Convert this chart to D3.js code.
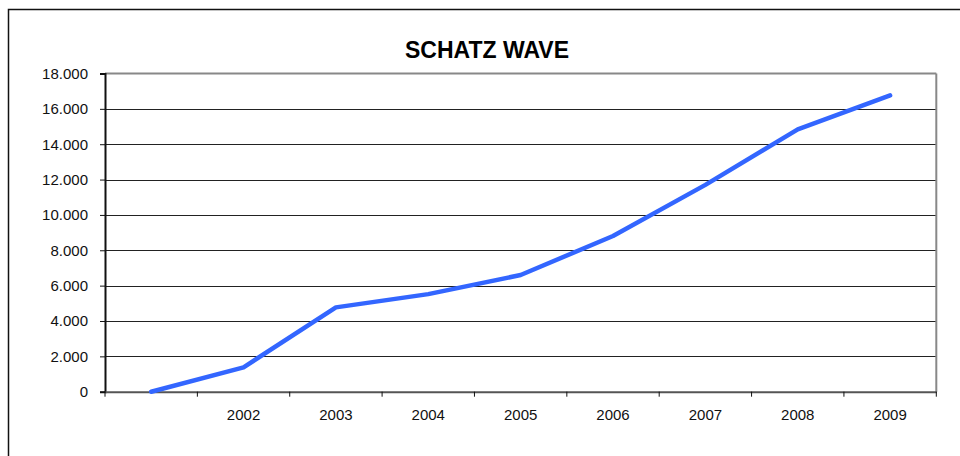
<!DOCTYPE html>
<html><head><meta charset="utf-8">
<script src="https://cdn.jsdelivr.net/npm/d3@7"></script>
<style>body{margin:0;background:#fff}svg{display:block}</style>
</head><body>
<svg id="c" width="960" height="456"></svg>
<script>
const categories = ["", "2002", "2003", "2004", "2005", "2006", "2007", "2008", "2009"];
const values = [0, 1380, 4770, 5520, 6600, 8810, 11700, 14840, 16760];
const yTicks = [0, 2000, 4000, 6000, 8000, 10000, 12000, 14000, 16000, 18000];
const title = "SCHATZ WAVE";

const svg = d3.select("#c");
const W = 960, H = 456;
const m = {left: 105, top: 73.5, right: 936.3, bottom: 391.7};
const font = "'Liberation Sans', Arial, Helvetica, sans-serif";

svg.append("rect").attr("width", W).attr("height", H).attr("fill", "#fff");
svg.append("rect").attr("x", 8.5).attr("y", 9.5).attr("width", W + 10).attr("height", H + 10)
  .attr("fill", "none").attr("stroke", "#111").attr("stroke-width", 1.5);

const x = d3.scaleBand().domain(categories.map((d, i) => i)).range([m.left, m.right]);
const y = d3.scaleLinear().domain([0, 18000]).range([m.bottom, m.top]);

svg.append("text").attr("x", 487).attr("y", 58).attr("text-anchor", "middle")
  .attr("font-family", font).attr("font-weight", "bold").attr("font-size", 23).attr("fill", "#000")
  .text(title);

// gridlines
svg.append("g").selectAll("line").data(yTicks.filter(d => d > 0 && d < 18000)).join("line")
  .attr("x1", m.left).attr("x2", m.right).attr("y1", d => Math.round(y(d)) + 0.5).attr("y2", d => Math.round(y(d)) + 0.5)
  .attr("stroke", "#222").attr("stroke-width", 1);

// plot border top/right
svg.append("line").attr("x1", m.left).attr("x2", m.right).attr("y1", y(18000)).attr("y2", y(18000))
  .attr("stroke", "#888").attr("stroke-width", 2);
svg.append("line").attr("x1", m.right).attr("x2", m.right).attr("y1", y(18000)).attr("y2", m.bottom)
  .attr("stroke", "#888").attr("stroke-width", 2);

// y axis
const fmt = d => d3.format(",")(d).replace(/,/g, ".");
const yAxis = d3.axisLeft(y).tickValues(yTicks).tickFormat(fmt).tickSize(5).tickPadding(12);
const gy = svg.append("g").attr("transform", `translate(${m.left},0)`).call(yAxis);
gy.select(".domain").attr("stroke", "#111").attr("stroke-width", 2);
gy.selectAll(".tick line").attr("stroke", "#111").attr("stroke-width", 1);
gy.selectAll(".tick text").attr("font-family", font).attr("font-size", 15).attr("fill", "#111");

// x axis
const xAxis = d3.axisBottom(x).tickFormat(i => categories[i]).tickSize(0).tickPadding(17.5);
const gx = svg.append("g").attr("transform", `translate(0,${m.bottom})`).call(xAxis);
gx.select(".domain").attr("stroke", "#555").attr("stroke-width", 2);
gx.selectAll(".tick text").attr("font-family", font).attr("font-size", 15).attr("fill", "#111");
// band boundary ticks
const bounds = categories.map((d, i) => x(i)).concat([x(categories.length - 1) + x.bandwidth()]);
gx.append("g").selectAll("line").data(bounds).join("line")
  .attr("x1", d => d).attr("x2", d => d).attr("y1", 0).attr("y2", 5)
  .attr("stroke", "#111").attr("stroke-width", 1);

// line
const line = d3.line().x((d, i) => x(i) + x.bandwidth() / 2).y(d => y(d));
svg.append("path").datum(values).attr("d", line).attr("fill", "none")
  .attr("stroke", "#3366ff").attr("stroke-width", 4.5).attr("stroke-linejoin", "round").attr("stroke-linecap", "round");
</script>
</body></html>
